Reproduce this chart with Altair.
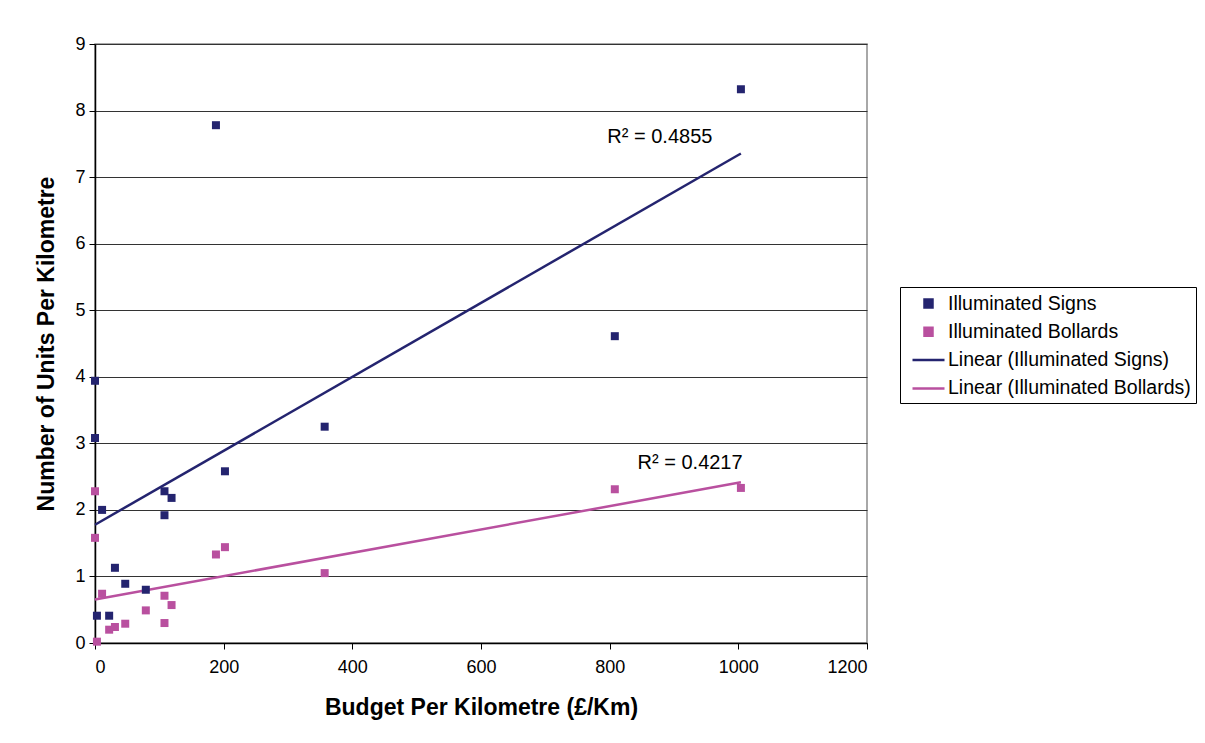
import altair as alt
import pandas as pd

budget = [0, 0, 3, 11, 22, 31, 47, 79, 108, 108, 119, 188, 202, 357, 808, 1004]
signs = [3.94, 3.08, 0.41, 2.00, 0.41, 1.13, 0.89, 0.80, 2.28, 1.92, 2.18, 7.78, 2.58, 3.25, 4.61, 8.32]
bollards = [2.28, 1.58, 0.02, 0.74, 0.20, 0.24, 0.29, 0.49, 0.71, 0.30, 0.57, 1.33, 1.44, 1.05, 2.31, 2.33]

series_names = ["Illuminated Signs", "Illuminated Bollards"]
legend_names = ["Illuminated Signs", "Illuminated Bollards",
                "Linear (Illuminated Signs)", "Linear (Illuminated Bollards)"]
colors = ["#24246f", "#b9509f", "#24246f", "#b9509f"]

r2_text = ["R² = 0.4855", "R² = 0.4217"]
r2_x = [878, 925]
r2_y = [7.6, 2.7]

x_ticks = [0, 200, 400, 600, 800, 1000, 1200]
y_ticks = [0, 1, 2, 3, 4, 5, 6, 7, 8, 9]

rows = []
for b, s in zip(budget, signs):
    rows.append({"x": b, "y": s, "series": series_names[0]})
for b, v in zip(budget, bollards):
    rows.append({"x": b, "y": v, "series": series_names[1]})
df = pd.DataFrame(rows)
df_r2 = pd.DataFrame({"x": r2_x, "y": r2_y, "t": r2_text})

FONT = "Liberation Sans"
SQ = "M-0.4,-0.4H0.4V0.4H-0.4Z"
LN = "M-1.6,0H1.6"

color_scale = alt.Scale(domain=legend_names, range=colors)
shape_scale = alt.Scale(domain=legend_names, range=[SQ, SQ, LN, LN])

x_enc = alt.X("x:Q", title="Budget Per Kilometre (£/Km)",
              scale=alt.Scale(domain=[0, 1200], nice=False),
              axis=alt.Axis(values=x_ticks, grid=False, format="d",
                            labelPadding=9, titlePadding=20))
y_enc = alt.Y("y:Q", title="Number of Units Per Kilometre",
              scale=alt.Scale(domain=[0, 9], nice=False),
              axis=alt.Axis(values=y_ticks, grid=True, format="d",
                            labelPadding=4, titlePadding=16))

legend = alt.Legend(title=None, orient="none", legendX=805, legendY=243,
                    strokeColor="black", fillColor="white", padding=5,
                    labelFont=FONT, labelFontSize=19.5, labelColor="black",
                    symbolSize=400, symbolStrokeWidth=2.5,
                    symbolOffset=12, labelOffset=8,
                    rowPadding=7.3, labelLimit=400)

points = alt.Chart(df).mark_point(filled=True, size=400, opacity=1).encode(
    x=x_enc, y=y_enc,
    color=alt.Color("series:N", scale=color_scale, legend=legend),
    shape=alt.Shape("series:N", scale=shape_scale, legend=legend),
)

lines = alt.Chart(df).transform_regression(
    "x", "y", groupby=["series"]
).transform_calculate(
    lab="'Linear (' + datum.series + ')'"
).mark_line(strokeWidth=2.5).encode(
    x="x:Q", y="y:Q",
    color=alt.Color("lab:N", scale=color_scale, legend=legend),
)

labels = alt.Chart(df_r2).mark_text(font=FONT, fontSize=20, color="black").encode(
    x="x:Q", y="y:Q", text="t:N"
)

chart = alt.layer(lines, points, labels).properties(
    width=772, height=599,
    autosize=alt.AutoSizeParams(type="none"),
    padding={"left": 87, "top": 36, "right": 330, "bottom": 84},
).configure_view(
    stroke="#8c8c8c", strokeWidth=1.5
).configure_axis(
    labelFont=FONT, labelFontSize=18, labelColor="black",
    titleFont=FONT, titleFontSize=23, titleFontWeight="bold", titleColor="black",
    domainColor="black", domainWidth=1.5, tickColor="black", tickSize=6,
    gridColor="#333333", gridWidth=1,
)

chart.save("out.html", embed_options={"renderer": "svg", "actions": False})
